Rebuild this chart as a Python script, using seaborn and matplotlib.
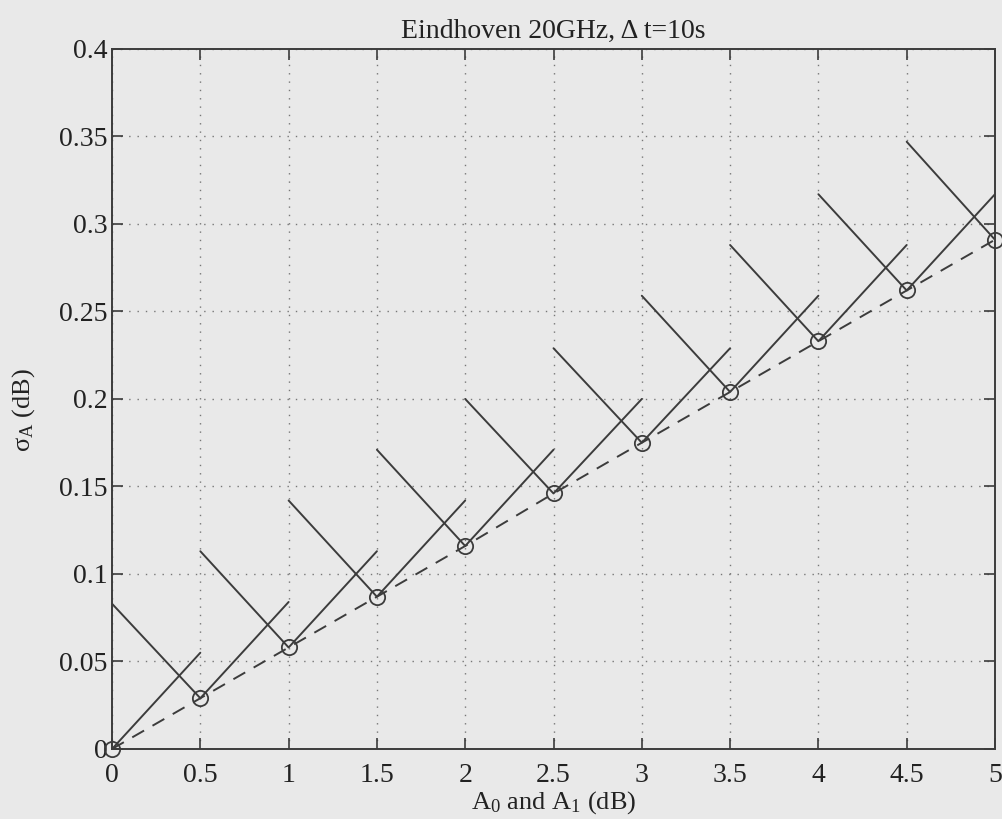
import numpy as np
import pandas as pd
import matplotlib
matplotlib.use("Agg")
import matplotlib.pyplot as plt
import seaborn as sns

# attenuation levels A0 / A1 (dB)
a_levels = [0, 0.5, 1, 1.5, 2, 2.5, 3, 3.5, 4, 4.5, 5]
# estimated sigma_A (dB) at each level
sigma_a = [0.0, 0.029, 0.058, 0.087, 0.116, 0.146, 0.175, 0.204, 0.233, 0.262, 0.291]
# end of the left arm (at A - 0.5) and right arm (at A + 0.5)
left_arm = [np.nan, 0.083, 0.113, 0.142, 0.171, 0.200, 0.229, 0.259, 0.288, 0.317, 0.347]
right_arm = [0.055, 0.084, 0.113, 0.142, 0.171, 0.200, 0.229, 0.259, 0.288, 0.317, 0.347]
x_ticklabels = ["0", "0.5", "1", "1.5", "2", "2.5", "3", "3.5", "4", "4.5", "5"]
y_ticks = [0, 0.05, 0.1, 0.15, 0.2, 0.25, 0.3, 0.35, 0.4]
y_ticklabels = ["0", "0.05", "0.1", "0.15", "0.2", "0.25", "0.3", "0.35", "0.4"]

line_col = "#3c3c3c"
txt_col = "#222222"
bg = "#e9e9e9"

sns.set_style("ticks")
plt.rcParams["font.family"] = ["Liberation Serif", "DejaVu Serif"]
plt.rcParams["mathtext.fontset"] = "custom"
plt.rcParams["mathtext.rm"] = "Liberation Serif"
plt.rcParams["mathtext.it"] = "Liberation Serif"

fig = plt.figure(figsize=(10.03, 8.19), dpi=100, facecolor=bg)
ax = fig.add_axes([0.1117, 0.0855, 0.8803, 0.8547])
ax.set_facecolor(bg)

df = pd.DataFrame({"A": a_levels, "sigma": sigma_a})

# V-shaped arms around each point
for a, s, lo, hi in zip(a_levels, sigma_a, left_arm, right_arm):
    ax.plot([a - 0.5, a, a + 0.5], [lo, s, hi], color=line_col, lw=1.4)

sns.lineplot(data=df, x="A", y="sigma", ax=ax, color=line_col, lw=1.4,
             linestyle=(0, (7, 5)), marker="o", markersize=11,
             markerfacecolor="none", markeredgecolor=line_col,
             markeredgewidth=1.3, clip_on=False)

ax.set_xlim(0, 5)
ax.set_ylim(0, 0.4)
ax.set_xticks(a_levels)
ax.set_xticklabels(x_ticklabels)
ax.set_yticks(y_ticks)
ax.set_yticklabels(y_ticklabels)

ax.grid(True, linestyle=(0, (1, 5)), color="#777777", lw=1.0)
ax.tick_params(direction="in", length=8, width=1.2, colors=line_col,
               labelcolor=txt_col, labelsize=20, top=True, right=True, pad=3)
ax.tick_params(axis="x", pad=10)
for sp in ax.spines.values():
    sp.set_visible(True)
    sp.set_color(line_col)
    sp.set_linewidth(1.4)

ax.set_title("Eindhoven 20GHz, \u0394 t=10s", fontsize=20, color=txt_col, pad=8)
ax.set_xlabel("A$_0$ and A$_1$ (dB)", fontsize=19, color=txt_col)
ax.xaxis.set_label_coords(0.5, -0.057)
ax.set_ylabel("\u03c3$_\\mathrm{A}$ (dB)", fontsize=19, color=txt_col)
ax.yaxis.set_label_coords(-0.085, 0.484)

fig.savefig("out.png", dpi=100, facecolor=bg)
